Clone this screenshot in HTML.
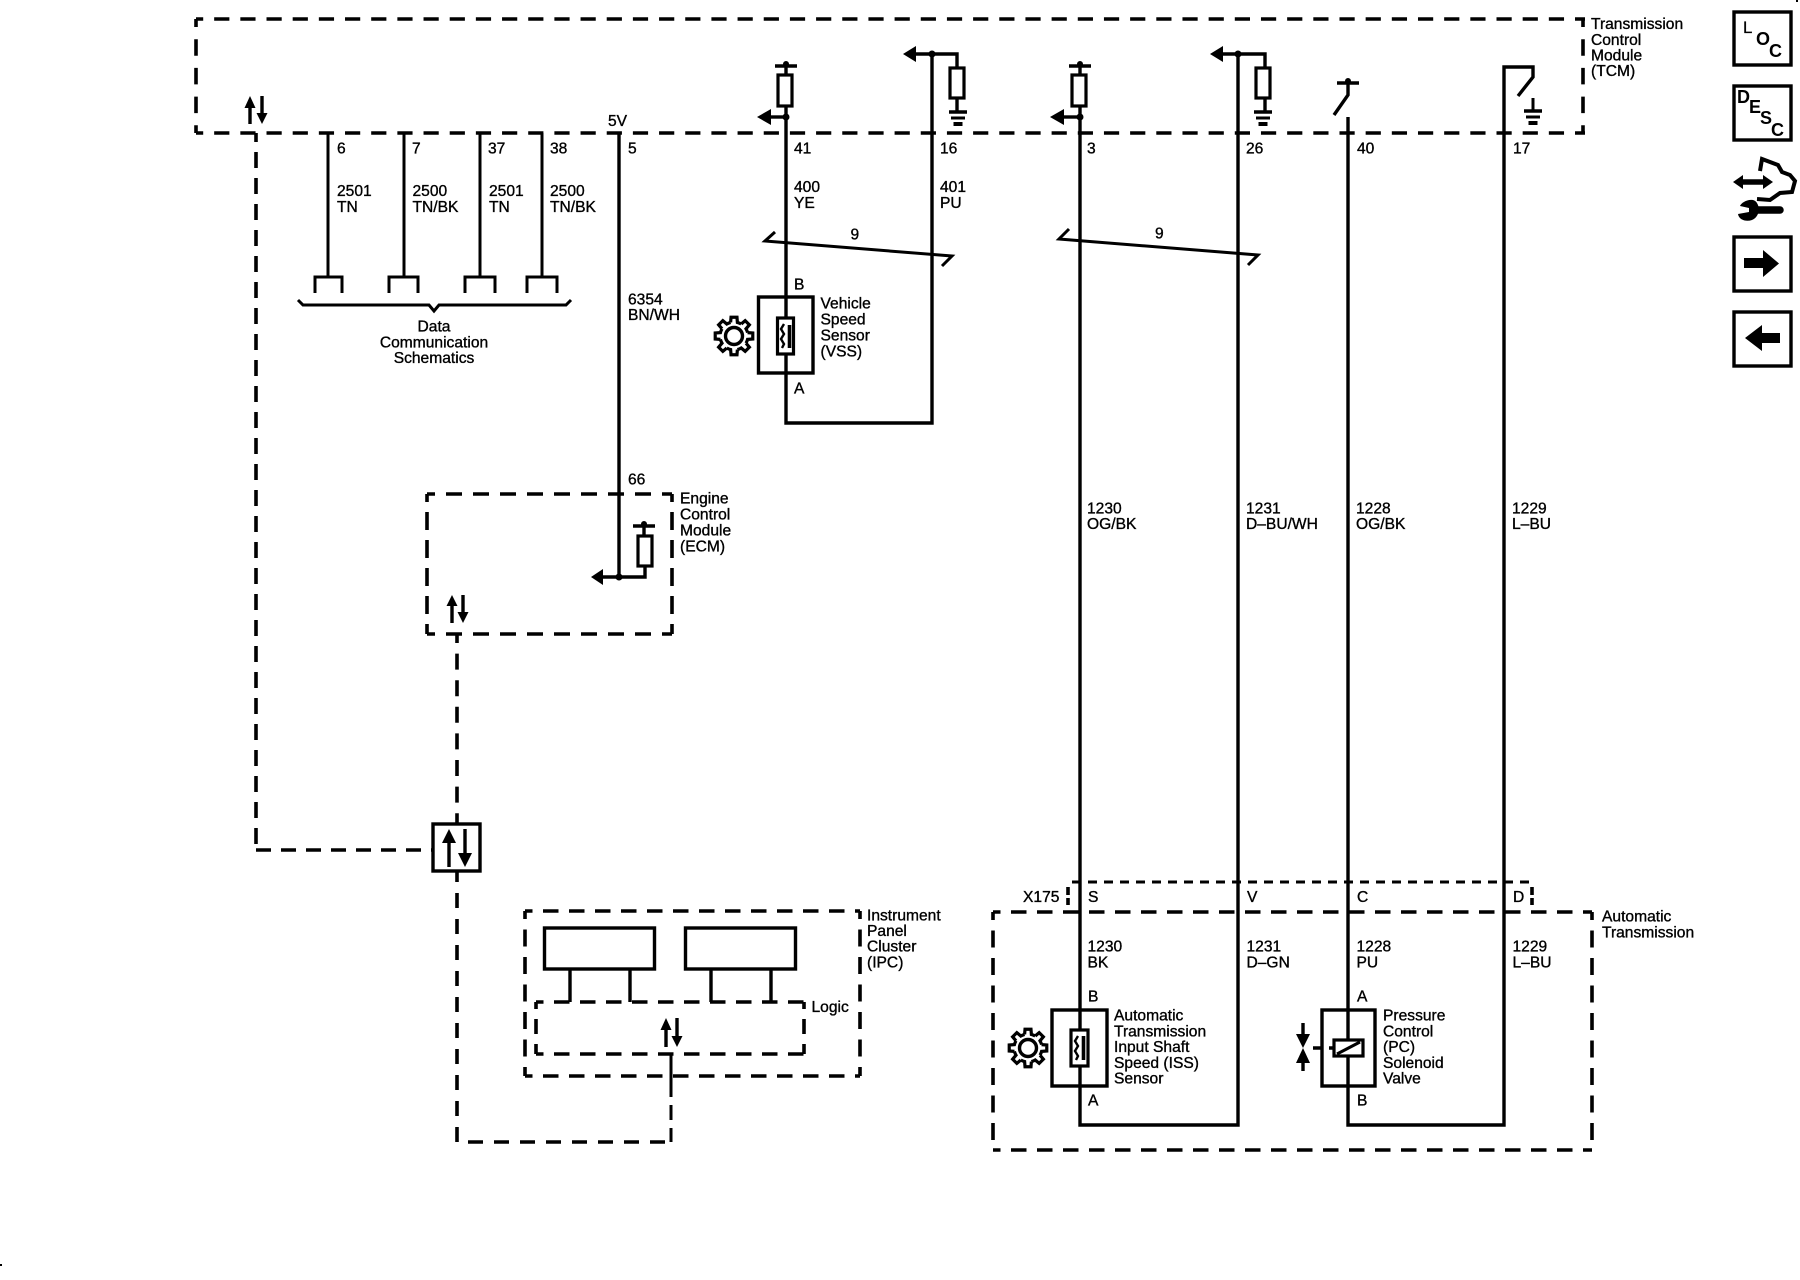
<!DOCTYPE html>
<html><head><meta charset="utf-8"><style>
html,body{margin:0;padding:0;background:#fff;width:1800px;height:1280px;overflow:hidden}
svg{display:block}
text{font-family:"Liberation Sans",sans-serif;font-size:15.6px;fill:#000;stroke:#000;stroke-width:.35}
.w{fill:none;stroke:#000;stroke-width:3.4}
.t{fill:none;stroke:#000;stroke-width:3}
.d{fill:none;stroke:#000;stroke-width:3.6}
.r{fill:#fff;stroke:#000;stroke-width:3.2}
.b{fill:#000;stroke:none}
.ic{font-size:18px;font-weight:bold;stroke-width:0}
</style></head><body>
<svg width="1800" height="1280" viewBox="0 0 1800 1280" xmlns="http://www.w3.org/2000/svg">
<defs>
<g id="tooth"><path d="M13.58 -3.39L18.77 -2.97L18.77 2.97L13.58 3.39A14 14 0 0 1 12 7.21" fill="none" stroke="#000" stroke-width="3.2"/></g>
<g id="gear">
<use href="#tooth"/><use href="#tooth" transform="rotate(45)"/><use href="#tooth" transform="rotate(90)"/><use href="#tooth" transform="rotate(135)"/><use href="#tooth" transform="rotate(180)"/><use href="#tooth" transform="rotate(225)"/><use href="#tooth" transform="rotate(270)"/><use href="#tooth" transform="rotate(315)"/>
<circle r="8.5" fill="none" stroke="#000" stroke-width="3.4"/>
</g>
<g id="gnd"><path d="M-9 0H9" stroke="#000" stroke-width="3.4"/><path d="M-7 6H7" stroke="#000" stroke-width="3"/><rect x="-4.500" y="10" width="9" height="4" fill="#000"/></g>
<g id="pull"><path d="M-11 0H11" stroke="#000" stroke-width="3.4"/><circle cy="-2" r="3" fill="#000"/></g>
</defs>
<rect width="1800" height="1280" fill="#fff"/>

<!-- TCM dashed box -->
<path class="d" d="M196 19H1585" stroke-dasharray="15.2 10.97" stroke-dashoffset="8"/>
<path class="d" d="M196 133H1585" stroke-dasharray="15.2 10.97" stroke-dashoffset="8"/>
<path class="d" d="M196 19V133" stroke-dasharray="16.5 12.2" stroke-dashoffset="8.500"/>
<path class="d" d="M1583 19V133" stroke-dasharray="16.5 12.2" stroke-dashoffset="8.500"/>

<!-- TCM arrows -->
<path class="w" d="M250 124V104" stroke-width="4"/><path class="b" d="M250 96L255.500 108H244.500Z"/>
<path class="w" d="M262 96V116"/><path class="b" d="M262 124L256.500 113H267.500Z"/>

<!-- Data link wires -->
<path class="t" d="M328 133V277"/><path class="t" d="M404 133V277" stroke-width="3.4"/><path class="t" d="M480 133V277"/><path class="t" d="M542 133V277"/>
<path class="t" d="M315 293V277H342V293"/><path class="t" d="M389 293V277H418V293"/><path class="t" d="M465 293V277H495V293"/><path class="t" d="M527 293V277H557V293"/>
<path class="t" d="M298 300L303 305H429L434 311L439 305H566L571 300"/>

<!-- wire 5 -->
<path class="w" d="M619 133V577"/>

<!-- VSS wires -->
<path class="w" d="M786 117V423H932V54"/>
<path class="w" d="M786 117V106M786 75V66"/>
<path class="w" d="M771 117H786"/><path class="b" d="M757 117L771 109V125Z"/><circle cx="786" cy="117" r="3.500"/>
<rect class="r" x="778" y="75" width="14" height="31"/>
<use href="#pull" x="786" y="66"/>
<path class="w" d="M916 54H957V112"/><path class="b" d="M903 54L916 46V62Z"/><circle cx="932" cy="54" r="3.500"/>
<rect class="r" x="950" y="68" width="14" height="30"/>
<use href="#gnd" x="958" y="112"/>

<!-- twisted -->
<path class="t" d="M775 232L765 241L952 256L942 266"/>
<path class="t" d="M1069 229L1059 239L1258 255L1248 265"/>

<!-- VSS -->
<rect x="758.500" y="297" width="54.500" height="76" fill="none" stroke="#000" stroke-width="3.400"/>
<rect class="r" x="777.500" y="318" width="16" height="36"/>
<path d="M789.500 325V348" stroke="#000" stroke-width="3.600" fill="none"/>
<path d="M784 324L781 329L784 334L781 339L784 344L782 348" stroke="#000" stroke-width="2.400" fill="none"/>
<use href="#gear" x="734" y="336"/>

<!-- ISS wires -->
<path class="w" d="M1080 117V1125H1238V54"/>
<path class="w" d="M1080 117V106M1080 75V66"/>
<path class="w" d="M1064 117H1080"/><path class="b" d="M1050 117L1064 109V125Z"/><circle cx="1080" cy="117" r="3.500"/>
<rect class="r" x="1072" y="75" width="14" height="31"/>
<use href="#pull" x="1080" y="66"/>
<path class="w" d="M1223 54H1265V112"/><path class="b" d="M1210 54L1223 46V62Z"/><circle cx="1238" cy="54" r="3.500"/>
<rect class="r" x="1256" y="68" width="14" height="30"/>
<use href="#gnd" x="1263" y="112"/>

<!-- 40 / 17 wires -->
<path class="w" d="M1348 117V1125H1504V67H1533V77L1518 96" stroke-width="3"/>
<path class="w" d="M1337 83H1359"/><circle cx="1348" cy="81" r="3"/>
<path class="w" d="M1348 83V95L1334 115"/>
<path class="t" d="M1533 98V111"/>
<use href="#gnd" x="1533" y="111"/>

<!-- ECM -->
<path class="d" d="M427 494H672" stroke-dasharray="16 11" stroke-dashoffset="8"/>
<path class="d" d="M427 634H672" stroke-dasharray="16 11" stroke-dashoffset="8"/>
<path class="d" d="M427 494V634" stroke-dasharray="18 10" stroke-dashoffset="10"/>
<path class="d" d="M672 494V634" stroke-dasharray="18 10" stroke-dashoffset="10"/>
<path class="w" d="M603 577H645V566"/><path class="b" d="M591 577L603 569V585Z"/><circle cx="619" cy="577" r="3.500"/>
<path class="w" d="M644 536V526"/>
<rect class="r" x="638" y="536" width="14" height="30"/>
<use href="#pull" x="644" y="526"/>
<path class="w" d="M452 623V603" stroke-width="4"/><path class="b" d="M452 595L457.500 606H446.500Z"/>
<path class="w" d="M463 595V615"/><path class="b" d="M463 623L457.500 612H468.500Z"/>

<!-- data dashed lines -->
<path class="d" d="M256 133V850" stroke-dasharray="16 10" stroke-dashoffset="7"/>
<path class="d" d="M256 850H432" stroke-dasharray="15 10"/>
<path class="d" d="M457 634V823" stroke-dasharray="16 10.600" stroke-dashoffset="7"/>
<path class="d" d="M457 872V1142H671" stroke-dasharray="15 11" stroke-dashoffset="5"/>

<!-- Junction box -->
<rect x="433" y="824" width="47" height="47" fill="#fff" stroke="#000" stroke-width="3.400"/>
<path class="w" d="M449 867V840" stroke-width="4"/><path class="b" d="M449 829L456 843H442Z"/>
<path class="w" d="M465 829V856" stroke-width="4"/><path class="b" d="M465 867L458 853H472Z"/>

<!-- IPC -->
<path class="d" d="M525 911H860" stroke-dasharray="15.500 10.500" stroke-dashoffset="8"/>
<path class="d" d="M525 1076H860" stroke-dasharray="15.500 10.500" stroke-dashoffset="8"/>
<path class="d" d="M525 911V1076" stroke-dasharray="17 10.500" stroke-dashoffset="9"/>
<path class="d" d="M860 911V1076" stroke-dasharray="17 10.500" stroke-dashoffset="9"/>
<rect x="544.500" y="928" width="110" height="41" fill="none" stroke="#000" stroke-width="3.400"/>
<rect x="685.500" y="928" width="110" height="41" fill="none" stroke="#000" stroke-width="3.400"/>
<path class="w" d="M570 969V1002M630 969V1002M711 969V1002M771 969V1002"/>
<path class="d" d="M536 1002H804" stroke-dasharray="15.500 10.500" stroke-dashoffset="8"/>
<path class="d" d="M536 1054H804" stroke-dasharray="15.500 10.500" stroke-dashoffset="8"/>
<path class="d" d="M536 1002V1054" stroke-dasharray="15 10" stroke-dashoffset="8"/>
<path class="d" d="M804 1002V1054" stroke-dasharray="15 10" stroke-dashoffset="8"/>
<path class="w" d="M666 1047V1026"/><path class="b" d="M666 1018L671.500 1030H660.500Z"/>
<path class="w" d="M677 1018V1038"/><path class="b" d="M677 1047L671.500 1036H682.500Z"/>
<path class="t" d="M671 1054V1082"/>
<path class="t" d="M671 1082V1142" stroke-dasharray="15 8" stroke-dashoffset="0"/>

<!-- Automatic transmission -->
<path class="d" d="M993 912H1592" stroke-dasharray="15.500 10.500" stroke-dashoffset="8"/>
<path class="d" d="M993 1150H1592" stroke-dasharray="15.500 10.500" stroke-dashoffset="8"/>
<path class="d" d="M993 912V1150" stroke-dasharray="17 10.500" stroke-dashoffset="9"/>
<path class="d" d="M1592 912V1150" stroke-dasharray="17 10.500" stroke-dashoffset="9"/>
<path d="M1072 882H1530" fill="none" stroke="#000" stroke-width="3" stroke-dasharray="9 7"/>
<path d="M1068 887V905M1532 887V905" fill="none" stroke="#000" stroke-width="3.600" stroke-dasharray="8 3"/>

<!-- ISS -->
<rect x="1052" y="1010" width="55" height="76" fill="none" stroke="#000" stroke-width="3.400"/>
<rect class="r" x="1071" y="1030" width="17" height="36"/>
<path d="M1083.500 1036V1060" stroke="#000" stroke-width="3.600" fill="none"/>
<path d="M1078 1036L1075 1041L1078 1046L1075 1051L1078 1056L1076 1060" stroke="#000" stroke-width="2.400" fill="none"/>
<use href="#gear" x="1028" y="1048"/>

<!-- PC solenoid -->
<rect x="1322" y="1010" width="53" height="76" fill="none" stroke="#000" stroke-width="3.400"/>
<path class="w" d="M1313 1048H1321M1329 1048H1334"/>
<rect class="r" x="1334" y="1040" width="29" height="16"/>
<path d="M1337 1054L1360 1042" stroke="#000" stroke-width="3" fill="none"/>
<path class="w" d="M1303 1023V1034M1303 1071V1060"/>
<path class="b" d="M1303 1048L1296 1034H1310Z"/><path class="b" d="M1303 1048L1296 1063H1310Z"/>

<!-- Labels: TCM -->
<text x="1591" y="29">Transmission</text><text x="1591" y="45">Control</text><text x="1591" y="60.500">Module</text><text x="1591" y="76">(TCM)</text>
<text x="608" y="126">5V</text>
<text x="337" y="153.500">6</text><text x="412" y="153.500">7</text><text x="488" y="153.500">37</text><text x="550" y="153.500">38</text><text x="628" y="153.500">5</text>
<text x="794" y="153.500">41</text><text x="940" y="153.500">16</text><text x="1087" y="153.500">3</text><text x="1246" y="153.500">26</text><text x="1357" y="153.500">40</text><text x="1513" y="153.500">17</text>
<text x="337" y="196">2501</text><text x="337" y="212">TN</text>
<text x="412.500" y="196">2500</text><text x="412.500" y="212">TN/BK</text>
<text x="489" y="196">2501</text><text x="489" y="212">TN</text>
<text x="550" y="196">2500</text><text x="550" y="212">TN/BK</text>
<text x="434" y="331.500" text-anchor="middle">Data</text><text x="434" y="347.500" text-anchor="middle">Communication</text><text x="434" y="363" text-anchor="middle">Schematics</text>
<text x="628" y="304.500">6354</text><text x="628" y="320">BN/WH</text>
<text x="794" y="192">400</text><text x="794" y="208">YE</text>
<text x="940" y="192">401</text><text x="940" y="208">PU</text>
<text x="850.500" y="239.500">9</text><text x="1155" y="238.500">9</text>
<text x="794" y="289.500">B</text><text x="794" y="393.500">A</text>
<text x="820.500" y="308.500">Vehicle</text><text x="820.500" y="324.500">Speed</text><text x="820.500" y="340.500">Sensor</text><text x="820.500" y="356.500">(VSS)</text>
<text x="628" y="484.500">66</text>
<text x="680" y="503.500">Engine</text><text x="680" y="519.500">Control</text><text x="680" y="535.500">Module</text><text x="680" y="551.500">(ECM)</text>
<text x="1087" y="513.500">1230</text><text x="1087" y="529">OG/BK</text>
<text x="1246" y="513.500">1231</text><text x="1246" y="529">D–BU/WH</text>
<text x="1356" y="513.500">1228</text><text x="1356" y="529">OG/BK</text>
<text x="1512" y="513.500">1229</text><text x="1512" y="529">L–BU</text>
<text x="867" y="920.500">Instrument</text><text x="867" y="936">Panel</text><text x="867" y="951.500">Cluster</text><text x="867" y="967.500">(IPC)</text>
<text x="811.500" y="1012">Logic</text>
<text x="1023" y="902">X175</text>
<text x="1088" y="902">S</text><text x="1247" y="902">V</text><text x="1357" y="902">C</text><text x="1513" y="902">D</text>
<text x="1087.500" y="951.500">1230</text><text x="1087.500" y="967.500">BK</text>
<text x="1246.500" y="951.500">1231</text><text x="1246.500" y="967.500">D–GN</text>
<text x="1356.500" y="951.500">1228</text><text x="1356.500" y="967.500">PU</text>
<text x="1512.500" y="951.500">1229</text><text x="1512.500" y="967.500">L–BU</text>
<text x="1088" y="1001.500">B</text><text x="1088" y="1105.500">A</text>
<text x="1357" y="1001.500">A</text><text x="1357" y="1105.500">B</text>
<text x="1114" y="1020.500">Automatic</text><text x="1114" y="1036.500">Transmission</text><text x="1114" y="1052">Input Shaft</text><text x="1114" y="1068">Speed (ISS)</text><text x="1114" y="1083.500">Sensor</text>
<text x="1383" y="1020.500">Pressure</text><text x="1383" y="1036.500">Control</text><text x="1383" y="1052">(PC)</text><text x="1383" y="1068">Solenoid</text><text x="1383" y="1083.500">Valve</text>
<text x="1602" y="921.500">Automatic</text><text x="1602" y="937.500">Transmission</text>

<!-- Right icons -->
<rect x="1734" y="12" width="57" height="53" fill="none" stroke="#000" stroke-width="3.400"/>
<text class="ic" x="1743" y="33" style="font-size:17px;stroke-width:.2;font-weight:normal">L</text>
<text class="ic" x="1756" y="45">O</text>
<text class="ic" x="1769" y="57">C</text>
<rect x="1734" y="86" width="57" height="54" fill="none" stroke="#000" stroke-width="3.400"/>
<text class="ic" x="1737" y="103">D</text>
<text class="ic" x="1749" y="113">E</text>
<text class="ic" x="1760" y="124">S</text>
<text class="ic" x="1771" y="136">C</text>
<path d="M1741 182H1766" stroke="#000" stroke-width="5.500" fill="none"/>
<path class="b" d="M1733 182L1743 175V189Z"/><path class="b" d="M1773 182L1763 175V189Z"/>
<path d="M1760 171L1762 159L1778 165L1782 172L1790 175L1795 181L1792 192L1780 193L1770 200L1757 199" fill="none" stroke="#000" stroke-width="4"/>
<path d="M1755 210H1780" stroke="#000" stroke-width="7.500" stroke-linecap="round" fill="none"/>
<path class="b" d="M1753 200C1747 199 1741 203 1740 206L1749 208L1749 212L1738 214C1739 220 1746 222 1752 220C1757 218 1759 213 1759 208C1758 205 1757 201 1753 200Z"/>
<rect x="1734" y="237" width="57" height="54" fill="none" stroke="#000" stroke-width="3.400"/>
<path class="b" d="M1744 258H1763V250L1779 263.500L1763 277V268H1744Z"/>
<rect x="1734" y="312" width="57" height="54" fill="none" stroke="#000" stroke-width="3.400"/>
<path class="b" d="M1745 338L1762 325V333H1780V343H1762V351Z"/>

<!-- specks -->
<rect x="1796" y="0" width="2" height="2" fill="#000"/>
<rect x="0" y="1264" width="2" height="2" fill="#000"/>
</svg>
</body></html>
